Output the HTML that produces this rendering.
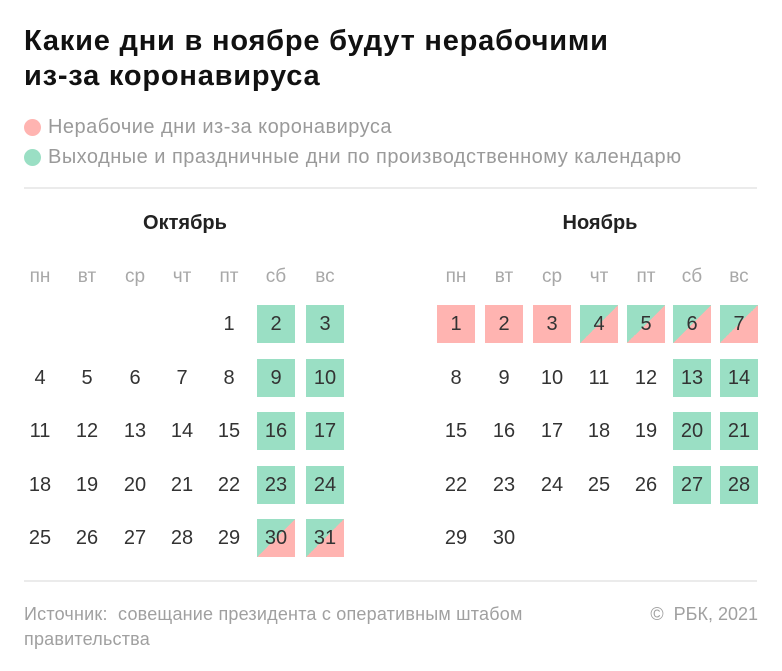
<!DOCTYPE html>
<html><head><meta charset="utf-8">
<style>
*{margin:0;padding:0;box-sizing:border-box}
body{width:782px;height:671px;background:#fff;position:relative;overflow:hidden;font-family:"Liberation Sans","Noto Sans CJK SC",sans-serif}
.t{position:absolute;left:24px;font-weight:bold;font-size:29px;letter-spacing:0.8px;color:#111;line-height:35px;white-space:nowrap}
.lg{position:absolute;left:24px;height:20px;display:flex;align-items:center;font-size:20px;color:#9a9a9a;white-space:nowrap;letter-spacing:0.48px}
.lg i{display:inline-block;width:17px;height:17px;border-radius:50%;margin-right:7px}
.hr{position:absolute;left:24px;width:733px;height:2px;background:#ebebeb}
.m{position:absolute;width:120px;height:24px;display:flex;align-items:center;justify-content:center;font-weight:bold;font-size:20px;color:#222}
.w{position:absolute;top:265px;width:38px;height:24px;display:flex;align-items:center;justify-content:center;font-size:19px;color:#a8a8a8}
.c{position:absolute;width:38px;height:38px;display:flex;align-items:center;justify-content:center;font-size:20px;color:#333}
.g{background:#9adfc4}
.p{background:#ffb4b1}
.s{background:linear-gradient(to bottom right,#9adfc4 50%,#ffb4b1 50%)}
.o0{left:21px}.o1{left:68px}.o2{left:116px}.o3{left:163px}.o4{left:210px}.o5{left:257px}.o6{left:306px}
.n0{left:437px}.n1{left:485px}.n2{left:533px}.n3{left:580px}.n4{left:627px}.n5{left:673px}.n6{left:720px}
.r0{top:305px}.r1{top:359px}.r2{top:412px}.r3{top:466px}.r4{top:519px}
.f{position:absolute;font-size:18px;color:#a0a0a0;white-space:nowrap;letter-spacing:0.2px}
</style></head><body>
<div class="t" style="top:24px">Какие дни в ноябре будут нерабочими</div>
<div class="t" style="top:59px">из-за коронавируса</div>
<div class="lg" style="top:117px"><i style="background:#ffb4b1"></i>Нерабочие дни из-за коронавируса</div>
<div class="lg" style="top:147px"><i style="background:#9adfc4"></i>Выходные и праздничные дни по производственному календарю</div>
<div class="hr" style="top:187px"></div>

<div class="m" style="left:125px;top:211px">Октябрь</div>
<div class="m" style="left:540px;top:211px">Ноябрь</div>

<div class="w o0">пн</div><div class="w o1">вт</div><div class="w o2">ср</div><div class="w o3">чт</div><div class="w o4">пт</div><div class="w o5">сб</div><div class="w o6">вс</div>
<div class="w n0">пн</div><div class="w n1">вт</div><div class="w n2">ср</div><div class="w n3">чт</div><div class="w n4">пт</div><div class="w n5">сб</div><div class="w n6">вс</div>

<!-- October -->
<div class="c o4 r0">1</div><div class="c o5 r0 g">2</div><div class="c o6 r0 g">3</div>
<div class="c o0 r1">4</div><div class="c o1 r1">5</div><div class="c o2 r1">6</div><div class="c o3 r1">7</div><div class="c o4 r1">8</div><div class="c o5 r1 g">9</div><div class="c o6 r1 g">10</div>
<div class="c o0 r2">11</div><div class="c o1 r2">12</div><div class="c o2 r2">13</div><div class="c o3 r2">14</div><div class="c o4 r2">15</div><div class="c o5 r2 g">16</div><div class="c o6 r2 g">17</div>
<div class="c o0 r3">18</div><div class="c o1 r3">19</div><div class="c o2 r3">20</div><div class="c o3 r3">21</div><div class="c o4 r3">22</div><div class="c o5 r3 g">23</div><div class="c o6 r3 g">24</div>
<div class="c o0 r4">25</div><div class="c o1 r4">26</div><div class="c o2 r4">27</div><div class="c o3 r4">28</div><div class="c o4 r4">29</div><div class="c o5 r4 s">30</div><div class="c o6 r4 s">31</div>

<!-- November -->
<div class="c n0 r0 p">1</div><div class="c n1 r0 p">2</div><div class="c n2 r0 p">3</div><div class="c n3 r0 s">4</div><div class="c n4 r0 s">5</div><div class="c n5 r0 s">6</div><div class="c n6 r0 s">7</div>
<div class="c n0 r1">8</div><div class="c n1 r1">9</div><div class="c n2 r1">10</div><div class="c n3 r1">11</div><div class="c n4 r1">12</div><div class="c n5 r1 g">13</div><div class="c n6 r1 g">14</div>
<div class="c n0 r2">15</div><div class="c n1 r2">16</div><div class="c n2 r2">17</div><div class="c n3 r2">18</div><div class="c n4 r2">19</div><div class="c n5 r2 g">20</div><div class="c n6 r2 g">21</div>
<div class="c n0 r3">22</div><div class="c n1 r3">23</div><div class="c n2 r3">24</div><div class="c n3 r3">25</div><div class="c n4 r3">26</div><div class="c n5 r3 g">27</div><div class="c n6 r3 g">28</div>
<div class="c n0 r4">29</div><div class="c n1 r4">30</div>

<div class="hr" style="top:580px"></div>
<div class="f" style="left:24px;top:604px">Источник:&nbsp; совещание президента с оперативным штабом</div>
<div class="f" style="left:24px;top:629px">правительства</div>
<div class="f" style="right:24px;top:604px;letter-spacing:0">©&nbsp; РБК, 2021</div>
</body></html>
